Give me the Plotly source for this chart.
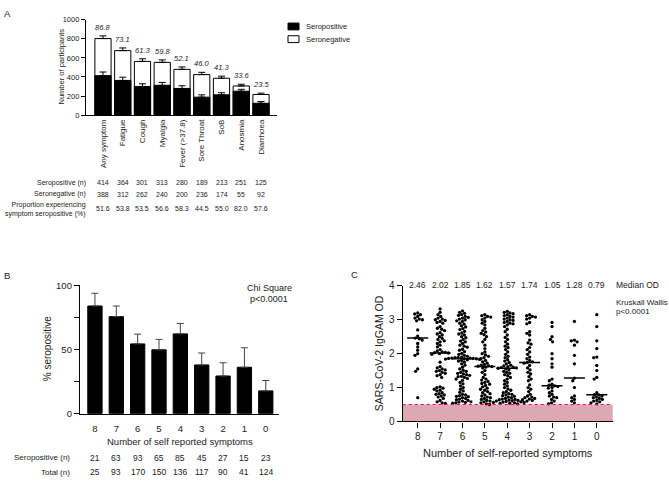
import math
import plotly.graph_objects as go

W, H = 669, 484
FONT = "Arial, Liberation Sans, Helvetica, sans-serif"
TXT = "#222222"


def fx(px):
    return px / W


def fy(py):
    return 1 - py / H


# ---------------- Panel A data ----------------
symptoms = ["Any symptom", "Fatigue", "Cough", "Myalgia", "Fever (>37.8)",
            "Sore Throat", "SoB", "Anosmia", "Diarrhoea"]
seropos_A = [414, 364, 301, 313, 280, 189, 213, 251, 125]
seroneg_A = [388, 312, 262, 240, 200, 236, 174, 55, 92]
prop_A = ["51.6", "53.8", "53.5", "56.6", "58.3", "44.5", "55.0", "82.0", "57.6"]
pct_top_A = ["86.8", "73.1", "61.3", "59.8", "52.1", "46.0", "41.3", "33.6", "23.5"]
err_pos_A = [38, 34, 28, 30, 28, 24, 22, 20, 18]
err_tot_A = [28, 28, 27, 26, 25, 24, 22, 18, 14]

# ---------------- Panel B data ----------------
n_symptoms = ["8", "7", "6", "5", "4", "3", "2", "1", "0"]
pct_pos_B = [83.8, 75.5, 54.3, 49.7, 62.1, 37.9, 29.3, 36.1, 17.7]
err_B = [9.9, 8.3, 7.6, 8.1, 8.1, 9.3, 10.3, 15.2, 8.1]
seropos_B = [21, 63, 93, 65, 85, 45, 27, 15, 23]
total_B = [25, 93, 170, 150, 136, 117, 90, 41, 124]

# ---------------- Panel C data ----------------
median_C = [2.46, 2.02, 1.85, 1.62, 1.57, 1.74, 1.05, 1.28, 0.79]
od_8 = [3.20, 3.17, 3.15, 3.10, 3.05, 3.02, 3.00, 2.97, 2.70, 2.52, 2.46,
        2.44, 2.40, 2.30, 2.20, 2.10, 2.00, 1.95, 1.55, 1.48, 0.70]
od_7 = [3.32, 3.22, 3.15, 3.10, 3.05, 3.02, 3.00, 2.98, 2.95, 2.92, 2.90,
        2.80, 2.75, 2.72, 2.68, 2.62, 2.58, 2.55, 2.50, 2.45, 2.42, 2.38,
        2.35, 2.30, 2.25, 2.20, 2.12, 2.08, 2.05, 2.04, 2.03, 2.02,
        2.00, 1.98, 1.75, 1.62, 1.58, 1.55, 1.52, 1.50, 1.48, 1.45, 1.42,
        1.38, 1.35, 1.30, 1.02, 1.00, 0.98, 0.95, 0.92, 0.90, 0.85, 0.82,
        0.80, 0.78, 0.75, 0.72, 0.68, 0.62, 0.58, 0.55, 0.53]
od_6 = [3.26, 3.22, 3.19, 3.15, 3.13, 3.10, 3.07, 3.05, 3.02, 3.00, 2.97,
        2.95, 2.90, 2.87, 2.82, 2.79, 2.74, 2.71, 2.66, 2.61, 2.58, 2.55,
        2.50, 2.47, 2.42, 2.37, 2.35, 2.30, 2.25, 2.22, 2.19, 2.13, 2.10,
        2.06, 2.01, 1.98, 1.95, 1.92, 1.90, 1.89, 1.88, 1.87, 1.87, 1.86,
        1.86, 1.85, 1.85,
        1.84, 1.83, 1.82, 1.80, 1.78, 1.75, 1.70, 1.66, 1.60, 1.55, 1.51,
        1.48, 1.45, 1.42, 1.40, 1.38, 1.36, 1.33, 1.32, 1.30, 1.27, 1.25,
        1.21, 1.15, 1.11, 1.05, 1.00, 0.95, 0.90, 0.86, 0.80, 0.78, 0.76,
        0.74, 0.73, 0.70, 0.68, 0.66, 0.64, 0.62, 0.60, 0.58, 0.57, 0.56,
        0.55, 0.54]
od_5 = [3.15, 3.12, 3.10, 3.08, 3.05, 3.00, 2.95, 2.90, 2.85, 2.75, 2.68,
        2.64, 2.60, 2.56, 2.50, 2.42, 2.35, 2.25, 2.15, 2.05, 2.00, 1.96,
        1.92, 1.88, 1.85, 1.80, 1.76, 1.72, 1.68, 1.66, 1.64, 1.63, 1.62,
        1.60, 1.58, 1.50, 1.45, 1.38, 1.30, 1.25, 1.22, 1.18, 1.15, 1.12,
        1.10, 1.06, 1.02, 0.98, 0.95, 0.92, 0.88, 0.85, 0.82, 0.78, 0.75,
        0.72, 0.70, 0.68, 0.65, 0.62, 0.60, 0.58, 0.55, 0.52, 0.50]
od_4 = [3.25, 3.22, 3.20, 3.18, 3.15, 3.12, 3.10, 3.08, 3.05, 3.02, 3.00,
        2.98, 2.95, 2.92, 2.90, 2.88, 2.85, 2.80, 2.72, 2.65, 2.55, 2.48,
        2.42, 2.35, 2.28, 2.22, 2.18, 2.12, 2.05, 1.98, 1.92, 1.88, 1.82,
        1.78, 1.74, 1.70, 1.66, 1.64, 1.62, 1.60, 1.59, 1.58, 1.57,
        1.55, 1.52, 1.48, 1.45, 1.42, 1.38, 1.35, 1.30, 1.25, 1.20, 1.15,
        1.10, 1.05, 1.00, 0.96, 0.92, 0.88, 0.85, 0.82, 0.80, 0.78, 0.76,
        0.74, 0.72, 0.70, 0.68, 0.66, 0.65, 0.64, 0.63, 0.62, 0.61, 0.60,
        0.59, 0.58, 0.57, 0.56, 0.56, 0.55, 0.54, 0.53, 0.52]
od_3 = [3.15, 3.12, 3.10, 3.08, 3.05, 3.02, 2.92, 2.88, 2.65, 2.60, 2.55,
        2.40, 2.32, 2.28, 2.18, 2.12, 2.05, 1.98, 1.90, 1.85, 1.80, 1.76,
        1.74, 1.72, 1.65, 1.58, 1.52, 1.45, 1.40, 1.32, 1.25, 1.20, 1.08,
        1.00, 0.95, 0.88, 0.80, 0.75, 0.72, 0.70, 0.68, 0.66, 0.64, 0.62,
        0.60]
od_2 = [2.92, 2.80, 2.50, 2.42, 2.35, 2.00, 1.85, 1.70, 1.60, 1.25, 1.20,
        1.10, 1.07, 1.05, 1.03, 1.00, 0.98, 0.90, 0.85, 0.80, 0.75, 0.72,
        0.70, 0.65, 0.60, 0.55, 0.52]
od_1 = [2.95, 2.40, 2.38, 2.35, 2.25, 1.95, 1.70, 1.28, 1.20, 1.00, 0.75,
        0.70, 0.65, 0.60, 0.55]
od_0 = [3.15, 2.80, 2.38, 2.15, 1.90, 1.88, 1.65, 1.50, 1.30, 1.25, 0.85,
        0.79, 0.78, 0.75, 0.72, 0.70, 0.68, 0.65, 0.62, 0.60, 0.58, 0.55,
        0.52]
groups_C = [od_8, od_7, od_6, od_5, od_4, od_3, od_2, od_1, od_0]
threshold_C = 0.5

# ---------------- geometry ----------------
A_x = (86, 277); A_y = (14, 112)
B_x = (80, 279); B_y = (286.3, 418)
C_x = (402.7, 612.7); C_y = (287, 426)
A_range = [-0.86, 8.81]
B_range = [-0.70, 8.62]
C_range = [-0.67, 8.71]


def beeswarm(vals, d_px, xppu, yppu):
    placed = []
    out = [0.0] * len(vals)
    order = sorted(range(len(vals)), key=lambda i: -vals[i])
    for i in order:
        y = vals[i] * yppu
        cands = [0.0]
        intervals = []
        for (px_, py_) in placed:
            dy = abs(py_ - y)
            if dy < d_px:
                dx = math.sqrt(d_px * d_px - dy * dy)
                intervals.append((px_ - dx, px_ + dx))
                cands += [px_ - dx, px_ + dx]
        cands.sort(key=lambda c: (abs(c), c))
        for c in cands:
            if all(not (a + 1e-6 < c < b - 1e-6) for a, b in intervals):
                out[i] = c
                break
        placed.append((out[i], y))
    return [o / xppu for o in out]


fig = go.Figure()

# Panel A bars (overlay: total behind, seropositive on top)
xA = list(range(len(symptoms)))
tot_A = [p + n for p, n in zip(seropos_A, seroneg_A)]
fig.add_trace(go.Bar(
    x=xA, y=tot_A, width=0.82, marker=dict(color="white", line=dict(color="black", width=1)),
    error_y=dict(type="data", symmetric=False, array=err_tot_A, arrayminus=[0] * 9,
                 color="black", thickness=1, width=3.5),
    xaxis="x", yaxis="y", name="Seronegative"))
fig.add_trace(go.Bar(
    x=xA, y=seropos_A, width=0.82, marker=dict(color="black", line=dict(color="black", width=1)),
    error_y=dict(type="data", symmetric=False, array=err_pos_A, arrayminus=[0] * 9,
                 color="black", thickness=1, width=3.5),
    xaxis="x", yaxis="y", name="Seropositive"))

# Panel B bars
xB = list(range(len(n_symptoms)))
fig.add_trace(go.Bar(
    x=xB, y=pct_pos_B, width=0.67, marker=dict(color="black", line=dict(color="black", width=1)),
    error_y=dict(type="data", symmetric=False, array=err_B, arrayminus=[0] * 9,
                 color="#444444", thickness=1, width=3.5),
    xaxis="x2", yaxis="y2"))

# Panel C swarm
xppu = (C_x[1] - C_x[0]) / (C_range[1] - C_range[0])
yppu = (C_y[1] - C_y[0]) / 4.0
xs, ys = [], []
for gi, vals in enumerate(groups_C):
    offs = beeswarm(vals, 3.2, xppu, yppu)
    xs += [gi + o for o in offs]
    ys += vals
fig.add_trace(go.Scatter(x=xs, y=ys, mode="markers",
                         marker=dict(size=3.3, color="black"),
                         xaxis="x3", yaxis="y3"))
fig.add_trace(go.Scatter(x=list(range(9)), y=median_C, mode="markers",
                         marker=dict(symbol="line-ew", size=15,
                                     line=dict(color="black", width=1.5)),
                         xaxis="x3", yaxis="y3"))

axis_common = dict(showgrid=False, zeroline=False, showline=True, linecolor="black",
                   linewidth=1.3, tickcolor="black", tickfont=dict(family=FONT, color=TXT))

fig.update_layout(
    width=W, height=H, margin=dict(l=0, r=0, t=0, b=0),
    paper_bgcolor="white", plot_bgcolor="white", showlegend=False,
    barmode="overlay", font=dict(family=FONT, color=TXT),
    xaxis=dict(axis_common, domain=[fx(A_x[0]), fx(A_x[1])], range=A_range, anchor="y",
               tickvals=xA, ticktext=symptoms, tickangle=-90, ticks="",
               tickfont=dict(family=FONT, size=8, color=TXT)),
    yaxis=dict(axis_common, domain=[fy(A_y[1]), fy(A_y[0])], range=[0, 1000], anchor="x",
               tickvals=[0, 200, 400, 600, 800, 1000], ticks="outside", ticklen=4,
               tickwidth=1.2, tickfont=dict(family=FONT, size=7.5, color=TXT)),
    xaxis2=dict(axis_common, domain=[fx(B_x[0]), fx(B_x[1])], range=B_range, anchor="y2",
                tickvals=xB, ticktext=n_symptoms, ticks="", ticklabelstandoff=6,
                tickfont=dict(family=FONT, size=9.5, color=TXT)),
    yaxis2=dict(axis_common, domain=[fy(B_y[1]), fy(B_y[0])], range=[0, 100], anchor="x2",
                tickvals=[0, 25, 50, 75, 100], ticktext=["0", "", "50", "", "100"],
                ticks="outside", ticklen=5, tickwidth=1.2,
                tickfont=dict(family=FONT, size=9.5, color=TXT)),
    xaxis3=dict(axis_common, domain=[fx(C_x[0]), fx(C_x[1])], range=C_range, anchor="y3",
                tickvals=list(range(9)), ticktext=n_symptoms, ticks="outside", ticklen=5,
                tickwidth=1.2, tickfont=dict(family=FONT, size=10, color=TXT)),
    yaxis3=dict(axis_common, domain=[fy(C_y[1]), fy(C_y[0])], range=[0, 4], anchor="x3",
                tickvals=[0, 1, 2, 3, 4], ticks="outside", ticklen=5, tickwidth=1.2,
                tickfont=dict(family=FONT, size=10, color=TXT)),
)

shapes = []
# Panel C threshold zone
shapes.append(dict(type="rect", xref="x3 domain", yref="y3", x0=0, x1=1, y0=0, y1=threshold_C,
                   fillcolor="#dba9b2", line=dict(width=0), layer="below"))
shapes.append(dict(type="line", xref="x3 domain", yref="y3", x0=0, x1=1, y0=threshold_C,
                   y1=threshold_C, line=dict(color="#c8203c", width=1.2, dash="dot")))
# Panel A legend keys
shapes.append(dict(type="rect", xref="paper", yref="paper", x0=fx(288), x1=fx(299),
                   y0=fy(24.5), y1=fy(17.5), fillcolor="black", line=dict(color="black", width=1)))
shapes.append(dict(type="rect", xref="paper", yref="paper", x0=fx(288), x1=fx(299),
                   y0=fy(37.5), y1=fy(30.5), fillcolor="white", line=dict(color="black", width=1)))

ann = []


def pa(text, x, y, size, xanchor="center", yanchor="middle", angle=0, align="center"):
    ann.append(dict(text=text, x=fx(x), y=fy(y), xref="paper", yref="paper", showarrow=False,
                    xanchor=xanchor, yanchor=yanchor, textangle=angle, align=align,
                    font=dict(family=FONT, size=size, color=TXT)))


# Panel letters
pa("A", 2, 8, 9.5, xanchor="left")
pa("B", 2, 276, 9.5, xanchor="left")
pa("C", 349, 275, 9.5, xanchor="left")

# Panel A texts
pa("Number of participants", 61, 62, 7.5, angle=-90)
pa("Seropositive", 304, 21, 7.5, xanchor="left")
pa("Seronegative", 304, 34, 7.5, xanchor="left")
for i in range(len(symptoms)):
    ann.append(dict(text="<i>" + pct_top_A[i] + "</i>", x=i, y=tot_A[i] + err_tot_A[i],
                    xref="x", yref="y", showarrow=False, yanchor="bottom", yshift=2,
                    font=dict(family=FONT, size=7.5, color=TXT)))
pa("Seropositive (n)", 88, 181, 7, xanchor="right")
pa("Seronegative (n)", 88, 193, 7, xanchor="right")
pa("Proportion experiencing<br>symptom seropositive (%)", 88, 209, 7, xanchor="right",
   align="right")
for i in range(len(symptoms)):
    for val, yy in ((seropos_A[i], 181), (seroneg_A[i], 193), (prop_A[i], 208)):
        ann.append(dict(text=str(val), x=i, y=fy(yy), xref="x", yref="paper", showarrow=False,
                        yanchor="middle", font=dict(family=FONT, size=7, color=TXT)))

# Panel B texts
pa("% seropositive", 47, 352, 10, angle=-90)
pa("Chi Square", 269, 289, 9)
pa("p<0.0001", 269, 300, 9)
pa("Number of self reported symptoms", 180, 446.7, 9.5)
pa("Seropositive (n)", 72, 463.3, 8, xanchor="right")
pa("Total (n)", 72, 478, 8, xanchor="right")
for i in range(len(n_symptoms)):
    for val, yy in ((seropos_B[i], 463.3), (total_B[i], 478)):
        ann.append(dict(text=str(val), x=i, y=fy(yy), xref="x2", yref="paper", showarrow=False,
                        yanchor="middle", font=dict(family=FONT, size=8.5, color=TXT)))

# Panel C texts
pa("SARS-CoV-2 IgGAM OD", 379, 356, 10.5, angle=-90)
pa("Number of self-reported symptoms", 508, 458, 11)
pa("Median OD", 614, 286, 8.5, xanchor="left")
pa("Kruskall Wallis", 614, 304, 8, xanchor="left")
pa("p<0.0001", 614, 313, 8, xanchor="left")
for i in range(9):
    ann.append(dict(text="%.2f" % median_C[i], x=i, y=fy(286), xref="x3", yref="paper",
                    showarrow=False, yanchor="middle",
                    font=dict(family=FONT, size=8.5, color=TXT)))

fig.update_layout(shapes=shapes, annotations=ann)
fig.write_html("out.html", config={"displayModeBar": False},
               post_script="document.body.style.margin='0px';")
